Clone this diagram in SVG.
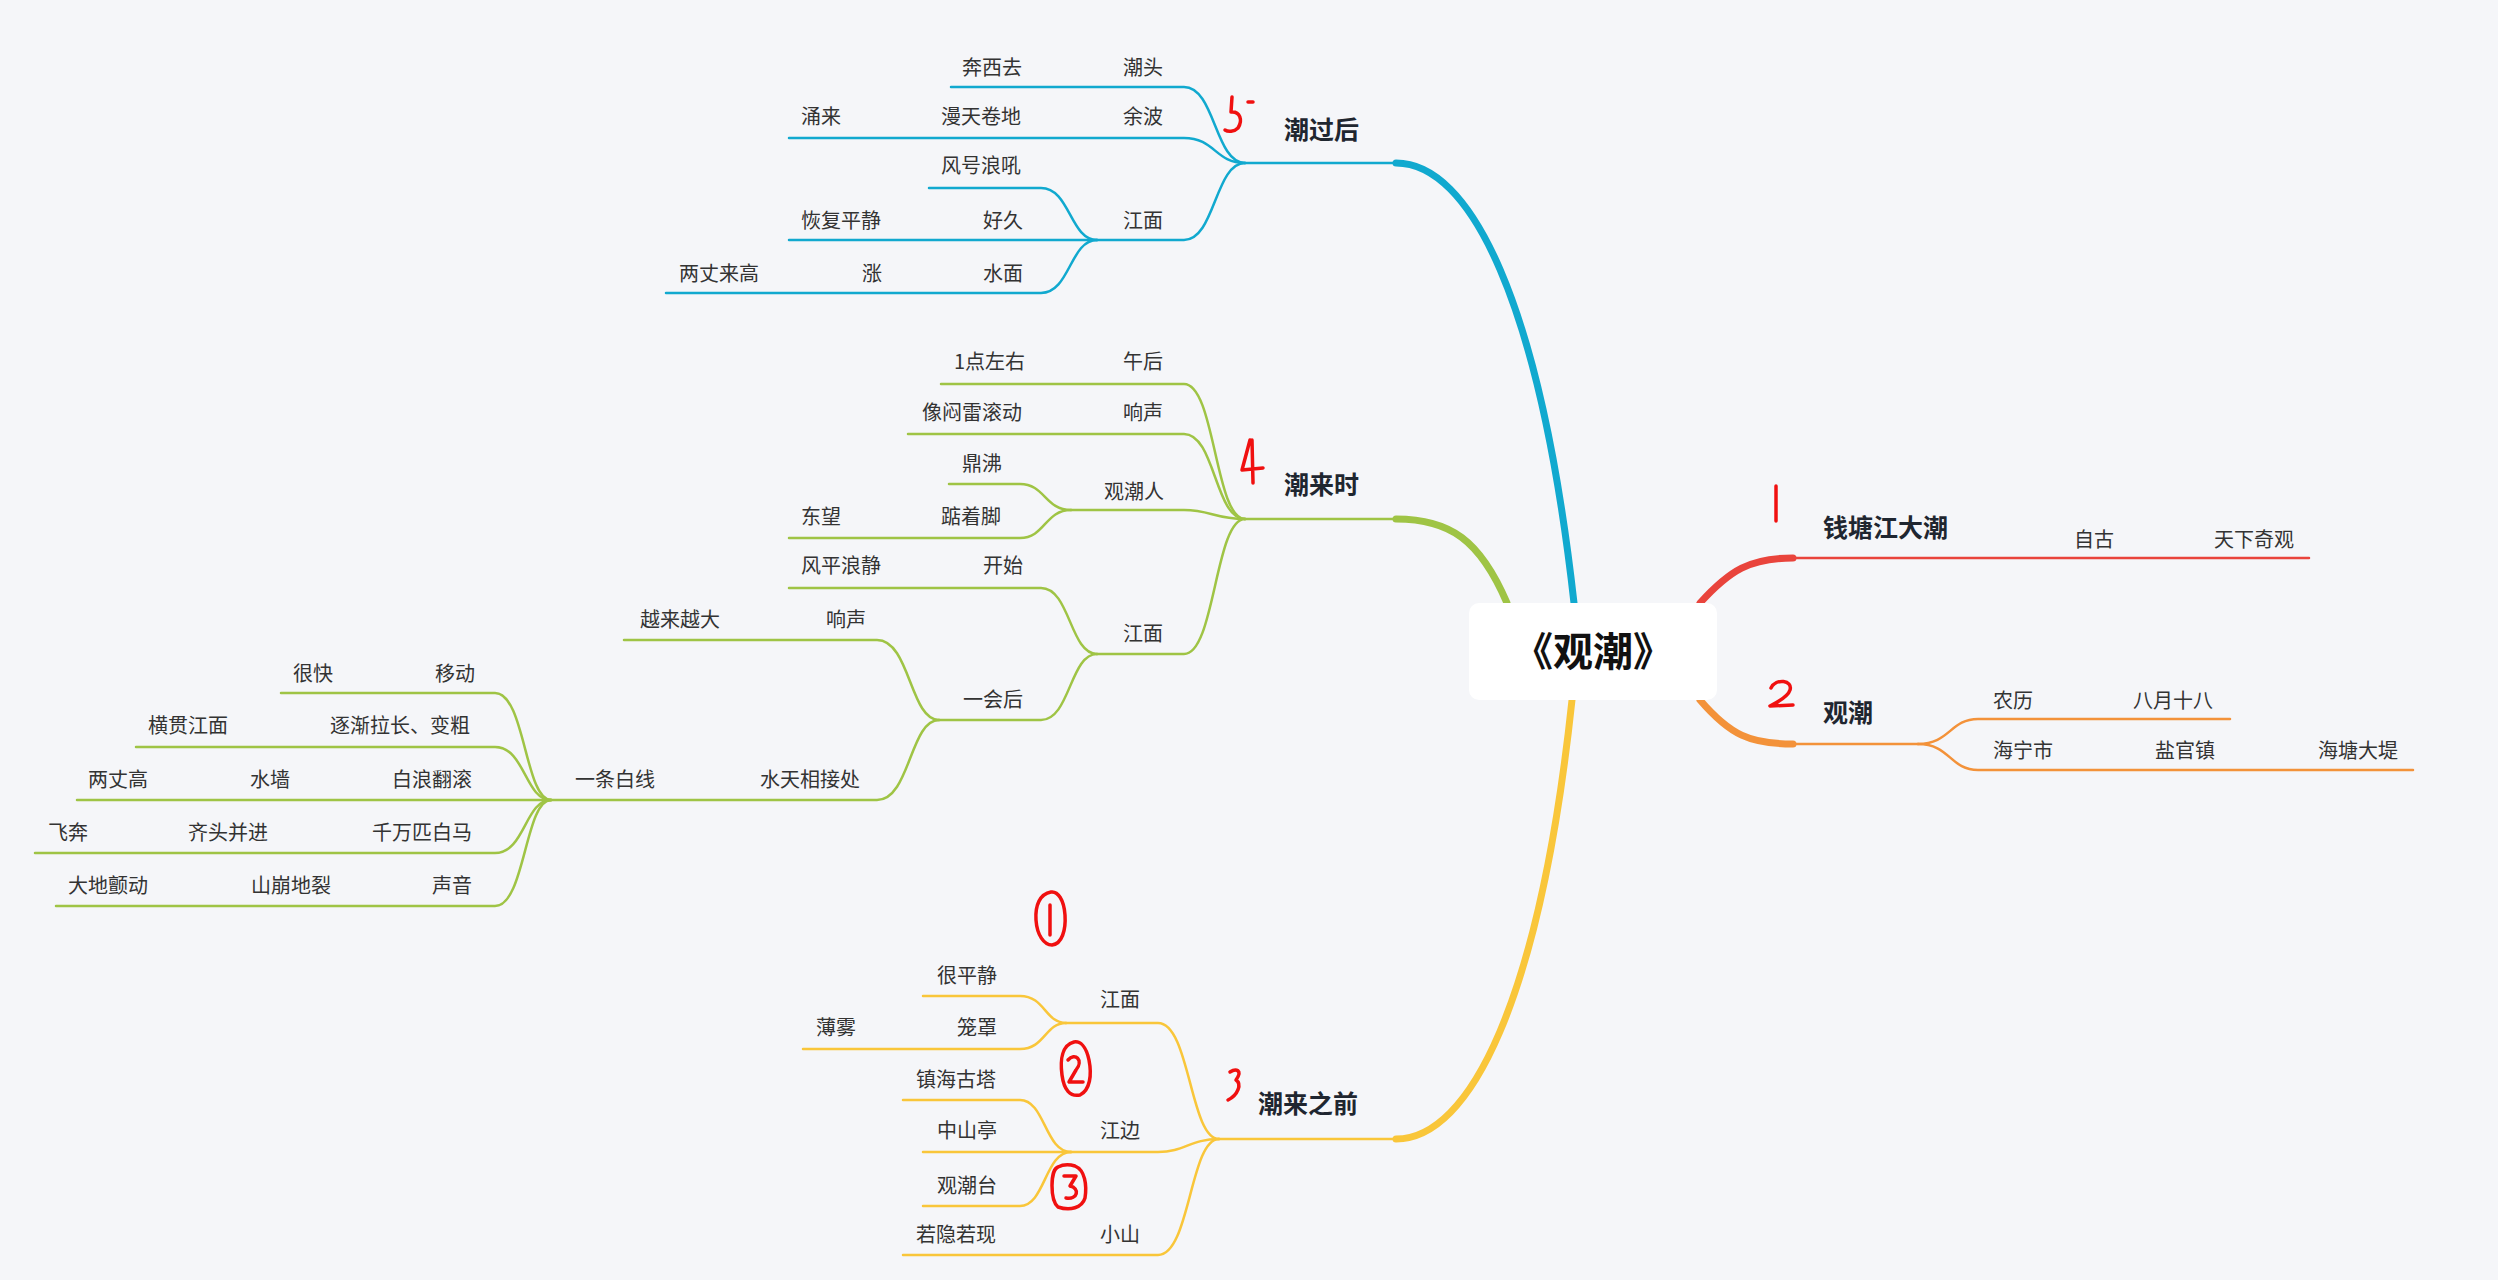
<svg xmlns="http://www.w3.org/2000/svg" width="2498" height="1280" viewBox="0 0 2498 1280">
<style>
.t{font-family:"Noto Sans CJK SC","Noto Sans",sans-serif;font-size:20px;fill:#333}
.m{font-family:"Noto Sans CJK SC","Noto Sans",sans-serif;font-size:25px;font-weight:bold;fill:#1f2630}
.r{font-family:"Noto Sans CJK SC","Noto Sans",sans-serif;font-size:40px;font-weight:bold;fill:#111}
.c{fill:none;stroke-linecap:round}
.b{stroke:#11a9cf}.g{stroke:#9fc445}.y{stroke:#f9c63a}.rd{stroke:#e9443c}.o{stroke:#f3923a}
.s{stroke-width:2.5}.w{stroke-width:7}
.a{fill:none;stroke:#f01010;stroke-width:3.5;stroke-linecap:round;stroke-linejoin:round}
</style>
<rect width="2498" height="1280" fill="#f5f6f9"/>
<g id="connectors">
<path class="c b w" d="M1574 603 C1540 300,1470 163,1396 163"/><path class="c b s" d="M1396 163 H1245"/>
<path class="c b s" d="M951 87 H1184 C1215 87,1215 163,1245 163"/>
<path class="c b s" d="M789 138 H1184 C1215 138,1215 163,1245 163"/>
<path class="c b s" d="M1097 240 H1184 C1215 240,1215 163,1245 163"/>
<path class="c b s" d="M929 188 H1041 C1070 188,1070 240,1097 240"/>
<path class="c b s" d="M789 240 H1097"/>
<path class="c b s" d="M666 293 H1041 C1070 293,1070 240,1097 240"/>
<path class="c g w" d="M1507 603 C1480 540,1450 519,1396 519"/><path class="c g s" d="M1396 519 H1245"/>
<path class="c g s" d="M941 384 H1184 C1215 384,1215 519,1245 519"/>
<path class="c g s" d="M908 434 H1184 C1215 434,1215 519,1245 519"/>
<path class="c g s" d="M1071 510 H1184 C1210 510,1215 519,1245 519"/>
<path class="c g s" d="M949 484 H1020 C1045 484,1045 510,1071 510"/>
<path class="c g s" d="M789 538 H1020 C1045 538,1045 510,1071 510"/>
<path class="c g s" d="M1097 654 H1184 C1215 654,1215 519,1245 519"/>
<path class="c g s" d="M789 588 H1041 C1070 588,1070 654,1097 654"/>
<path class="c g s" d="M939 720 H1041 C1070 720,1070 654,1097 654"/>
<path class="c g s" d="M624 640 H877 C910 640,910 720,939 720"/>
<path class="c g s" d="M551 800 H877 C910 800,910 720,939 720"/>
<path class="c g s" d="M281 693 H495 C525 693,525 800,551 800"/>
<path class="c g s" d="M136 747 H495 C525 747,525 800,551 800"/>
<path class="c g s" d="M77 800 H551"/>
<path class="c g s" d="M35 853 H495 C525 853,525 800,551 800"/>
<path class="c g s" d="M56 906 H495 C525 906,525 800,551 800"/>
<path class="c y w" d="M1572 700 C1540 1000,1470 1139,1396 1139"/><path class="c y s" d="M1396 1139 H1219"/>
<path class="c y s" d="M1066 1023 H1158 C1190 1023,1190 1139,1219 1139"/>
<path class="c y s" d="M923 996 H1020 C1045 996,1045 1023,1066 1023"/>
<path class="c y s" d="M803 1049 H1020 C1045 1049,1045 1023,1066 1023"/>
<path class="c y s" d="M1071 1152 H1158 C1185 1152,1190 1139,1219 1139"/>
<path class="c y s" d="M903 1100 H1020 C1045 1100,1045 1152,1071 1152"/>
<path class="c y s" d="M923 1152 H1071"/>
<path class="c y s" d="M923 1206 H1020 C1045 1206,1045 1152,1071 1152"/>
<path class="c y s" d="M903 1255 H1158 C1190 1255,1190 1139,1219 1139"/>
<path class="c rd w" d="M1700 603 C1730 570,1750 558,1793 558"/><path class="c rd s" d="M1793 558 H2309"/>
<path class="c o w" d="M1700 700 C1730 735,1750 744,1793 744"/><path class="c o s" d="M1793 744 H1918"/>
<path class="c o s" d="M1918 744 C1950 744,1950 719,1978 719 H2230"/>
<path class="c o s" d="M1918 744 C1950 744,1950 770,1978 770 H2413"/>
</g>
<g id="root"><rect x="1469" y="603" width="248" height="97" rx="10" fill="#fff"/><text class="r" x="1593" y="666" text-anchor="middle">《观潮》</text></g>
<g id="n1"><text class="m" x="1823" y="537">钱塘江大潮</text><text class="t" x="2074" y="547">自古</text><text class="t" x="2214" y="547">天下奇观</text></g>
<g id="n2"><text class="m" x="1823" y="722">观潮</text><text class="t" x="1993" y="708">农历</text><text class="t" x="2133" y="708">八月十八</text><text class="t" x="1993" y="758">海宁市</text><text class="t" x="2155" y="758">盐官镇</text><text class="t" x="2318" y="758">海塘大堤</text></g>
<g id="n5"><text class="m" x="1284" y="139">潮过后</text>
<text class="t" x="1123" y="75">潮头</text><text class="t" x="962" y="75">奔西去</text>
<text class="t" x="1123" y="124">余波</text><text class="t" x="941" y="124">漫天卷地</text><text class="t" x="801" y="124">涌来</text>
<text class="t" x="1123" y="228">江面</text><text class="t" x="941" y="173">风号浪吼</text>
<text class="t" x="983" y="228">好久</text><text class="t" x="801" y="228">恢复平静</text>
<text class="t" x="983" y="281">水面</text><text class="t" x="862" y="281">涨</text><text class="t" x="679" y="281">两丈来高</text></g>
<g id="n4"><text class="m" x="1284" y="494">潮来时</text>
<text class="t" x="1123" y="369">午后</text><text class="t" x="954" y="369">1点左右</text>
<text class="t" x="1123" y="420">响声</text><text class="t" x="922" y="420">像闷雷滚动</text>
<text class="t" x="1104" y="499">观潮人</text><text class="t" x="962" y="471">鼎沸</text>
<text class="t" x="941" y="524">踮着脚</text><text class="t" x="801" y="524">东望</text>
<text class="t" x="1123" y="641">江面</text><text class="t" x="983" y="573">开始</text><text class="t" x="801" y="573">风平浪静</text>
<text class="t" x="963" y="707">一会后</text>
<text class="t" x="826" y="627">响声</text><text class="t" x="640" y="627">越来越大</text>
<text class="t" x="760" y="787">水天相接处</text><text class="t" x="575" y="787">一条白线</text>
<text class="t" x="435" y="681">移动</text><text class="t" x="293" y="681">很快</text>
<text class="t" x="330" y="733">逐渐拉长、变粗</text><text class="t" x="148" y="733">横贯江面</text>
<text class="t" x="392" y="787">白浪翻滚</text><text class="t" x="250" y="787">水墙</text><text class="t" x="88" y="787">两丈高</text>
<text class="t" x="372" y="840">千万匹白马</text><text class="t" x="188" y="840">齐头并进</text><text class="t" x="48" y="840">飞奔</text>
<text class="t" x="432" y="893">声音</text><text class="t" x="251" y="893">山崩地裂</text><text class="t" x="68" y="893">大地颤动</text></g>
<g id="n3"><text class="m" x="1258" y="1113">潮来之前</text>
<text class="t" x="1100" y="1007">江面</text><text class="t" x="937" y="983">很平静</text>
<text class="t" x="957" y="1035">笼罩</text><text class="t" x="816" y="1035">薄雾</text>
<text class="t" x="1100" y="1138">江边</text><text class="t" x="916" y="1087">镇海古塔</text>
<text class="t" x="937" y="1138">中山亭</text><text class="t" x="937" y="1193">观潮台</text>
<text class="t" x="1100" y="1242">小山</text><text class="t" x="916" y="1242">若隐若现</text></g>
<g id="annotations">
<path class="a" d="M1776 486 V521"/>
<path class="a" d="M1771 688 C1776 678,1793 680,1790 690 C1788 697,1776 703,1770 706 L1793 705"/>
<path class="a" d="M1232 97 L1231 112 C1240 111,1243 120,1238 128 C1234 132,1228 132,1225 130 M1248 102 L1253 102"/>
<path class="a" d="M1250 440 L1242 470 L1263 468 M1252 440 L1253 483"/>
<path class="a" d="M1230 1072 C1236 1068,1243 1070,1236 1080 C1242 1084,1238 1095,1228 1100"/>
<path class="a" d="M1051 892 C1040 894,1035 905,1036 920 C1037 935,1044 945,1052 945 C1062 944,1066 930,1065 915 C1064 900,1058 891,1051 892 M1050 905 L1050 935"/>
<path class="a" d="M1074 1042 C1062 1045,1060 1060,1062 1075 C1064 1090,1070 1097,1080 1095 C1090 1090,1092 1075,1089 1060 C1086 1046,1080 1041,1074 1042 M1068 1060 C1075 1052,1084 1060,1076 1070 L1069 1082 L1083 1082"/>
<path class="a" d="M1058 1167 C1050 1170,1050 1200,1058 1207 C1070 1211,1082 1208,1085 1198 C1087 1185,1085 1170,1075 1166 C1068 1164,1062 1165,1058 1167 M1064 1176 L1076 1176 L1070 1186 C1080 1188,1078 1200,1066 1198"/>
</g>
</svg>
